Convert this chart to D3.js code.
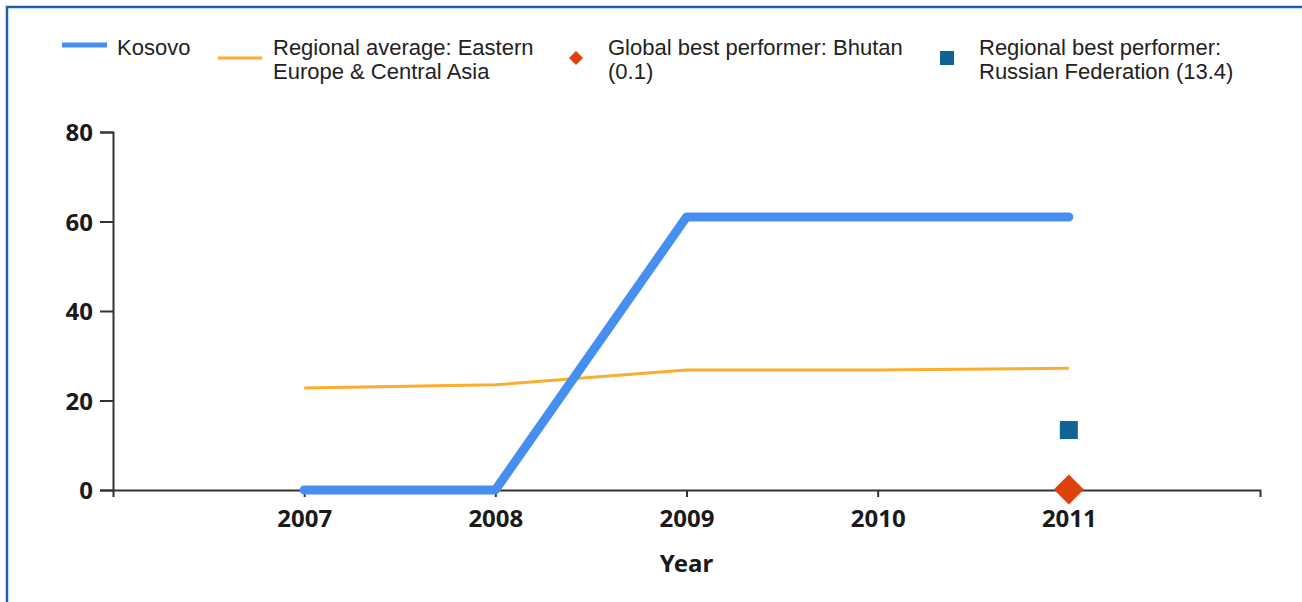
<!DOCTYPE html>
<html>
<head>
<meta charset="utf-8">
<script src="https://cdn.jsdelivr.net/npm/d3@7"></script>
<style>
  body { margin: 0; background: #fff; }
  #chart-area { width: 1302px; height: 602px; }
</style>
</head>
<body>
<div id="chart-area"></div>
<script>

// DATA
let years = [2007, 2008, 2009, 2010, 2011];
let kosovo = [0, 0, 61, 61, 61];
let regionalAvg = [22.8, 23.5, 26.8, 26.8, 27.2];
let globalBest = [{year: 2011, value: 0.1}];
let regionalBest = [{year: 2011, value: 13.4}];
let yTicks = [0, 20, 40, 60, 80];

let legendItems = [
  {type: "thick", lines: ["Kosovo"], x: 62, lineY: 45},
  {type: "thin", lines: ["Regional average: Eastern", "Europe & Central Asia"], x: 218, lineY: 58},
  {type: "diamond", lines: ["Global best performer: Bhutan", "(0.1)"], x: 576, lineY: 58},
  {type: "square", lines: ["Regional best performer:", "Russian Federation (13.4)"], x: 947, lineY: 58}
];

let width = 1302,
    height = 602;

let svg = d3.select("#chart-area").append("svg")
    .attr("width", width)
    .attr("height", height);

// frame (only top and left edges show)
svg.append("path")
    .attr("d", "M7,610 L7,7 L1310,7")
    .attr("fill", "none")
    .attr("stroke", "#1f5fa8")
    .attr("stroke-width", 2.5);

// scales
let x = d3.scaleLinear().domain([2006, 2012]).range([113, 1260]);
let y = d3.scaleLinear().domain([0, 80]).range([490, 132]);

// axes
let xAxis = d3.axisBottom(x)
    .tickValues(years)
    .tickFormat(d3.format("d"))
    .tickSizeInner(7)
    .tickSizeOuter(7)
    .tickPadding(13);

let yAxis = d3.axisLeft(y)
    .tickValues(yTicks)
    .tickSizeInner(13)
    .tickSizeOuter(13)
    .tickPadding(7);

let gx = svg.append("g")
    .attr("transform", "translate(0," + y(0) + ")")
    .call(xAxis);

let gy = svg.append("g")
    .attr("transform", "translate(" + x(2006) + ",0)")
    .call(yAxis);

[gx, gy].forEach(function(g) {
  g.select(".domain").attr("stroke", "#333").attr("stroke-width", 2);
  g.selectAll(".tick line").attr("stroke", "#333").attr("stroke-width", 2);
  g.selectAll(".tick text")
    .attr("fill", "#1a1a1a")
    .style("font-family", "'Noto Sans', 'Liberation Sans', sans-serif")
    .style("font-weight", "bold")
    .style("font-size", "24px");
});
gx.selectAll(".tick text").attr("dy", "0.71em");
gy.selectAll(".tick text").attr("dy", "0.36em");

// axis title
svg.append("text")
    .attr("x", (x(2006) + x(2012)) / 2)
    .attr("y", 572)
    .attr("text-anchor", "middle")
    .style("font-family", "'Noto Sans', 'Liberation Sans', sans-serif")
    .style("font-weight", "bold")
    .style("font-size", "24px")
    .attr("fill", "#1a1a1a")
    .text("Year");

// lines
let line = d3.line()
    .x(function(d, i) { return x(years[i]); })
    .y(function(d) { return y(d); });

svg.append("path")
    .datum(regionalAvg)
    .attr("d", line)
    .attr("fill", "none")
    .attr("stroke", "#fbad2e")
    .attr("stroke-width", 3);

svg.append("path")
    .datum(kosovo)
    .attr("d", line)
    .attr("fill", "none")
    .attr("stroke", "#468ef0")
    .attr("stroke-width", 9)
    .attr("stroke-linejoin", "round")
    .attr("stroke-linecap", "round");

// markers
svg.selectAll(".rbest")
    .data(regionalBest)
    .enter().append("rect")
    .attr("class", "rbest")
    .attr("x", function(d) { return x(d.year) - 9; })
    .attr("y", function(d) { return y(d.value) - 9; })
    .attr("width", 18)
    .attr("height", 18)
    .attr("fill", "#0f6493");

svg.selectAll(".gbest")
    .data(globalBest)
    .enter().append("path")
    .attr("class", "gbest")
    .attr("transform", function(d) { return "translate(" + x(d.year) + "," + y(d.value) + ")"; })
    .attr("d", "M0,-15 L15,0 L0,15 L-15,0 Z")
    .attr("fill", "#dd410c");

// legend
let legend = svg.selectAll(".legend")
    .data(legendItems)
    .enter().append("g")
    .attr("class", "legend");

legend.each(function(d) {
  let g = d3.select(this);
  if (d.type == "thick") {
    g.append("line")
      .attr("x1", d.x).attr("x2", d.x + 45)
      .attr("y1", d.lineY).attr("y2", d.lineY)
      .attr("stroke", "#468ef0").attr("stroke-width", 5);
  } else if (d.type == "thin") {
    g.append("line")
      .attr("x1", d.x).attr("x2", d.x + 44)
      .attr("y1", d.lineY).attr("y2", d.lineY)
      .attr("stroke", "#fbad2e").attr("stroke-width", 3);
  } else if (d.type == "diamond") {
    g.append("path")
      .attr("transform", "translate(" + d.x + "," + d.lineY + ")")
      .attr("d", "M0,-7 L7,0 L0,7 L-7,0 Z")
      .attr("fill", "#dd410c");
  } else {
    g.append("rect")
      .attr("x", d.x - 7).attr("y", d.lineY - 7)
      .attr("width", 14).attr("height", 14)
      .attr("fill", "#0f6493");
  }
  let tx = d.type == "thick" ? d.x + 55 : (d.type == "thin" ? d.x + 55 : d.x + 32);
  g.selectAll("text")
    .data(d.lines)
    .enter().append("text")
    .attr("x", tx)
    .attr("y", function(t, i) { return 55 + i * 24; })
    .style("font-family", "'Liberation Sans', Arial, sans-serif")
    .style("font-size", "22px")
    .attr("fill", "#222")
    .text(function(t) { return t; });
});

</script>
</body>
</html>
